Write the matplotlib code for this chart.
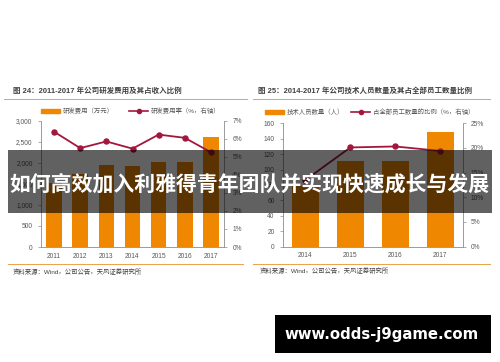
import matplotlib
matplotlib.use("Agg")
import matplotlib.pyplot as plt
from matplotlib.patches import Rectangle
from matplotlib.lines import Line2D
from matplotlib.ticker import FuncFormatter

plt.rcParams['font.family'] = ['Liberation Sans', 'Noto Sans CJK SC', 'DejaVu Sans']

# 图24 data
years_a = ["2011", "2012", "2013", "2014", "2015", "2016", "2017"]
rd_cost = [1530, 1740, 1950, 1935, 2015, 2025, 2620]
rd_rate = [6.39, 5.48, 5.85, 5.45, 6.23, 6.05, 5.25]

# 图25 data
years_b = ["2014", "2015", "2016", "2017"]
tech_staff = [78, 111, 111, 149]
tech_share = [13.5, 20.1, 20.3, 19.4]

ORANGE = "#F08700"
RED = "#A3173D"
GRAY = "#8C8C8C"
TXT = "#595959"
W, H = 500, 362


def fx(px):
    return px / W


def fy(py):
    return 1 - py / H


fig = plt.figure(figsize=(5, 3.62), dpi=100)
fig.patch.set_facecolor("white")


def style(ax, axr, ylab_fmt, yr_fmt):
    for s in ["top", "right"]:
        ax.spines[s].set_visible(False)
    for s in ["top", "left", "bottom"]:
        axr.spines[s].set_visible(False)
    for sp in [ax.spines["left"], ax.spines["bottom"], axr.spines["right"]]:
        sp.set_color(GRAY)
        sp.set_linewidth(0.6)
    ax.tick_params(axis="x", length=0, labelsize=4.8, colors=TXT, pad=4)
    ax.tick_params(axis="y", length=2, width=0.5, color=GRAY, labelsize=4.8,
                   labelcolor=TXT, pad=4)
    axr.tick_params(axis="y", length=2, width=0.5, color=GRAY, labelsize=4.8,
                    labelcolor=TXT, pad=4)
    ax.yaxis.set_major_formatter(FuncFormatter(ylab_fmt))
    axr.yaxis.set_major_formatter(FuncFormatter(yr_fmt))


def legend(ax, x, y, labels, colsp):
    handles = [Rectangle((0, 0), 1, 1, color=ORANGE),
               Line2D([], [], color=RED, lw=1.2, marker="o", ms=3)]
    fig.legend(handles, labels, loc="center left", bbox_to_anchor=(fx(x), fy(y)),
               ncol=2, frameon=False, fontsize=4.6, handlelength=3.0,
               handleheight=0.6, handletextpad=0.4, columnspacing=colsp,
               borderpad=0, borderaxespad=0, labelcolor=TXT)


# ---- 图24
ax1 = fig.add_axes([fx(41), fy(247), fx(224) - fx(41), fy(120.7) - fy(247)])
ax1.bar(range(len(years_a)), rd_cost, width=0.6, color=ORANGE, zorder=2)
ax1.set_xlim(-0.5, len(years_a) - 0.5)
ax1.set_ylim(0, 3000)
ax1.set_yticks(range(0, 3001, 500))
ax1.set_xticks(range(len(years_a)))
ax1.set_xticklabels(years_a)
ax1b = ax1.twinx()
ax1b.plot(range(len(years_a)), rd_rate, color=RED, lw=1.3, marker="o", ms=3.6)
ax1b.set_ylim(0, 7)
ax1b.set_yticks(range(0, 8))
style(ax1, ax1b, lambda v, p: f"{v:,.0f}", lambda v, p: f"{v:.0f}%")
legend(ax1, 41, 110.5, ["研发费用（万元）", "研发费用率（%，右轴）"], 2.4)

fig.text(fx(13), fy(91.5), "图 24：2011-2017 年公司研发费用及其占收入比例",
         fontsize=5.4, fontweight="bold", color="#404040", va="center")
fig.add_artist(Line2D([fx(4), fx(247)], [fy(99.3)] * 2, color="#E9A24A", lw=0.7))
fig.add_artist(Line2D([fx(8), fx(243)], [fy(264)] * 2, color="#E9A24A", lw=0.7))
fig.text(fx(13), fy(271.5), "资料来源：Wind，公司公告，天风证券研究所",
         fontsize=4.6, color="#404040", va="center")

# ---- 图25
ax2 = fig.add_axes([fx(283), fy(246.5), fx(462.5) - fx(283), fy(123.3) - fy(246.5)])
ax2.bar(range(len(years_b)), tech_staff, width=0.6, color=ORANGE, zorder=2)
ax2.set_xlim(-0.5, len(years_b) - 0.5)
ax2.set_ylim(0, 160)
ax2.set_yticks(range(0, 161, 20))
ax2.set_xticks(range(len(years_b)))
ax2.set_xticklabels(years_b)
ax2b = ax2.twinx()
ax2b.plot(range(len(years_b)), tech_share, color=RED, lw=1.3, marker="o", ms=3.6)
ax2b.set_ylim(0, 25)
ax2b.set_yticks(range(0, 26, 5))
style(ax2, ax2b, lambda v, p: f"{v:.0f}", lambda v, p: f"{v:.0f}%")
legend(ax2, 265, 112, ["技术人员数量（人）", "占全部员工数量的比例（%，右轴）"], 1.1)

fig.text(fx(258), fy(91.5), "图 25：2014-2017 年公司技术人员数量及其占全部员工数量比例",
         fontsize=5.4, fontweight="bold", color="#404040", va="center")
fig.add_artist(Line2D([fx(253), fx(490)], [fy(99.3)] * 2, color="#E9A24A", lw=0.7))
fig.add_artist(Line2D([fx(253), fx(490)], [fy(264)] * 2, color="#E9A24A", lw=0.7))
fig.text(fx(260), fy(270.5), "资料来源：Wind，公司公告，天风证券研究所",
         fontsize=4.6, color="#404040", va="center")

# ---- overlay banner
fig.add_artist(Rectangle((fx(8), fy(213)), fx(492) - fx(8), fy(150) - fy(213),
                         transform=fig.transFigure, color="black", alpha=0.62,
                         lw=0, zorder=10))
fig.text(fx(249), fy(184), "如何高效加入利雅得青年团队并实现快速成长与发展",
         fontsize=15.0, fontweight="bold", color="white", ha="center", va="center",
         family=["Noto Sans CJK SC", "DejaVu Sans"], zorder=11)

# ---- watermark
fig.add_artist(Rectangle((fx(275), fy(353)), fx(491) - fx(275), fy(315) - fy(353),
                         transform=fig.transFigure, color="black", lw=0, zorder=10))
fig.text(fx(382), fy(334), "www.odds-j9game.com", fontsize=10.7, fontweight="bold",
         color="white", ha="center", va="center",
         family=["DejaVu Sans"], zorder=11)

fig.savefig("out.png", dpi=100, facecolor="white")
